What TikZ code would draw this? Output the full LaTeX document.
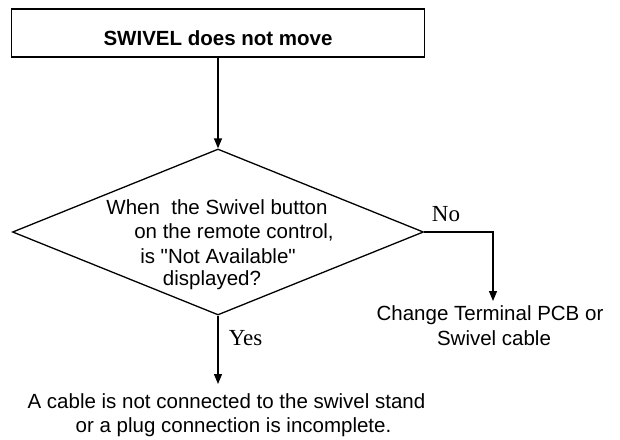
\documentclass[tikz,border=0pt]{standalone}
\usepackage{fontspec}
\setmainfont{Liberation Serif}
\setsansfont{Liberation Sans}[Ligatures=TeXOff]
\usetikzlibrary{shapes.geometric,arrows.meta}
\begin{document}
\begin{tikzpicture}[x=1pt,y=-1pt,
  line/.style={line width=1.3pt},
  arr/.style={line, -{Triangle[width=8pt,length=10pt]}},
  sans/.style={font=\sffamily\fontsize{20.5}{24}\selectfont, inner sep=0pt},
  serif/.style={font=\rmfamily\fontsize{23}{26}\selectfont, inner sep=0pt}]
\useasboundingbox (0,0) rectangle (620,439);
% start box
\node[draw, line width=1.6pt, minimum width=413pt, minimum height=48pt, inner sep=0pt] (start) at (218,33) {};
\node[sans, font=\sffamily\bfseries\fontsize{20.5}{24}\selectfont] (starttext) at (218,38) {SWIVEL does not move};
% decision
\node[draw, line, diamond, minimum width=411pt, minimum height=166pt, inner sep=0pt] (dia) at (218,232) {};
\node[sans] (q1) at (217,207) {When\ \ the Swivel button};
\node[sans] (q2) at (234,232) {on the remote control,};
\node[sans] (q3) at (218,256) {is "Not Available"};
\node[sans] (q4) at (212,280) {displayed?};
% arrows
\draw[arr] (start.south) -- (dia.north);
\coordinate (noend) at (493,301);
\draw[arr] (dia.east) -| (noend);
\node[serif] (no) at (446,214) {No};
\node[sans] (chg1) at (490,315) {Change Terminal PCB or};
\node[sans] (chg2) at (494,338) {Swivel cable};
\coordinate (yesend) at (218,384);
\draw[arr] (dia.south) -- (yesend);
\node[serif] (yes) at (245.5,338) {Yes};
\node[sans] (res1) at (226.5,401) {A cable is not connected to the swivel stand};
\node[sans] (res2) at (233.5,427) {or a plug connection is incomplete.};
\end{tikzpicture}
\end{document}
